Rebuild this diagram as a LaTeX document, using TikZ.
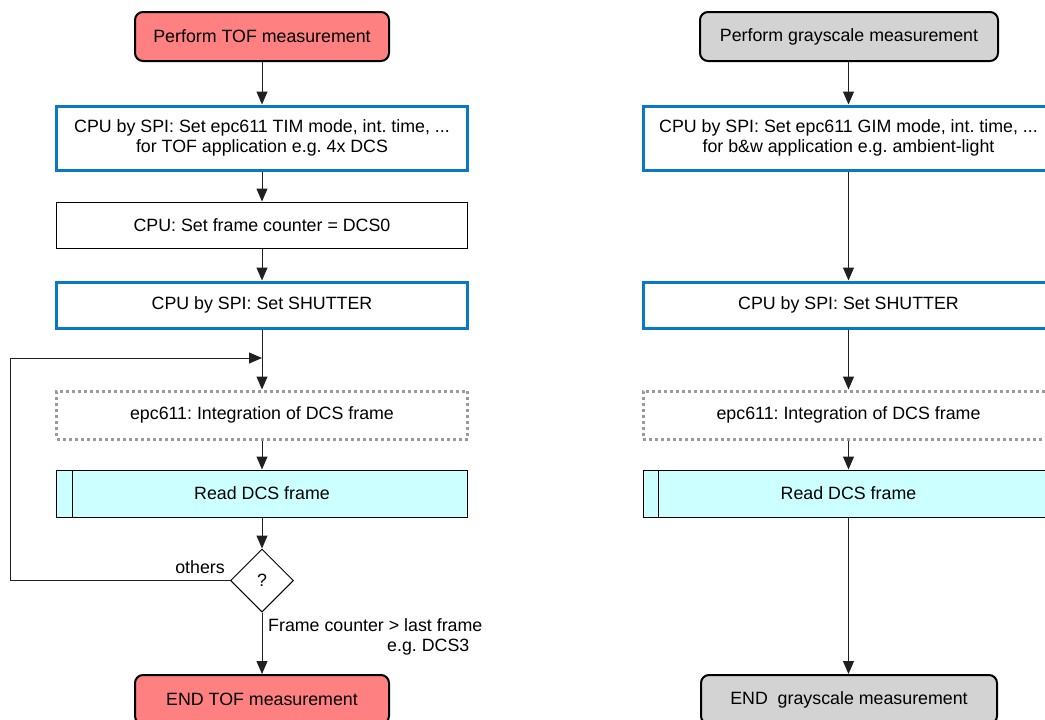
\documentclass[tikz,border=0pt]{standalone}
\usepackage{fontspec}
\setmainfont{Liberation Sans}
\usetikzlibrary{arrows.meta,shapes.geometric}
\definecolor{redf}{HTML}{FF8080}
\definecolor{grayf}{HTML}{D3D3D3}
\definecolor{bluel}{HTML}{0A78C8}
\definecolor{cyanf}{HTML}{CCFFFF}
\definecolor{dotg}{HTML}{9A9A9A}
\definecolor{ln}{HTML}{202020}
\frenchspacing
\tikzset{
  base/.style={font=\fontsize{17.8}{20}\selectfont, align=center, inner sep=0pt, text=black},
  term/.style={base, draw=black, line width=2pt, rounded corners=8pt, minimum height=49pt},
  bluebox/.style={base, draw=bluel, line width=3pt, minimum width=411pt},
  plainbox/.style={base, draw=black, line width=1pt, minimum width=411pt, minimum height=46pt},
  dotbox/.style={base, draw=dotg, line width=3pt, dash pattern=on 3pt off 3pt, minimum width=411pt, minimum height=48pt},
  readbox/.style={base, draw=black, line width=1pt, fill=cyanf, minimum width=411pt, minimum height=47pt},
  decision/.style={base, draw=black, line width=1pt, diamond, aspect=1, minimum width=63pt, minimum height=63pt},
  arr/.style={draw=ln, line width=1pt, -{Triangle[length=13pt,width=11pt]}},
  lbl/.style={base}
}
\begin{document}
\begin{tikzpicture}[x=1pt,y=-1pt]
\useasboundingbox (0,0) rectangle (1045,720);
\clip (0,0) rectangle (1045,720);
% left column
\node[term, fill=redf, minimum width=254pt] (ls) at (262,36.5) {Perform TOF measurement};
\node[bluebox, minimum height=64pt] (lc) at (262,138) {CPU by SPI: Set epc611 TIM mode, int. time, ...\\for TOF application e.g. 4x DCS};
\node[plainbox] (lf) at (262,225) {CPU: Set frame counter = DCS0};
\node[bluebox, minimum height=46pt] (lsh) at (262,305) {CPU by SPI: Set SHUTTER};
\node[dotbox] (ld) at (262,415) {epc611: Integration of DCS frame};
\node[readbox] (lr) at (262,493.5) {Read DCS frame};
\draw[line width=1pt] ([xshift=16pt]lr.north west) -- ([xshift=16pt]lr.south west);
\node[decision] (q) at (262,580.5) {?};
\node[term, fill=redf, minimum width=254pt] (le) at (262,699.5) {END TOF measurement};
\coordinate (join) at (262,358);
\coordinate (lp) at (10,0);
\draw[arr] (ls) -- (lc);
\draw[arr] (lc) -- (lf);
\draw[arr] (lf) -- (lsh);
\draw[arr] (lsh) -- (ld);
\draw[arr] (ld) -- (lr);
\draw[arr] (lr) -- (q);
\draw[arr] (q.west) -- (q.west -| lp) |- (join);
\draw[arr] (q) -- (le);
\node[lbl, anchor=south east] at (225,574) {others};
\node[lbl, anchor=north west, align=left] at (268,618) {Frame counter > last frame\\\hspace*{119pt}e.g. DCS3};
% right column
\node[term, fill=grayf, minimum width=298pt] (rs) at (849,36.5) {Perform grayscale measurement};
\node[bluebox, minimum height=64pt] (rc) at (848.5,138) {CPU by SPI: Set epc611 GIM mode, int. time, ...\\for b\&w application e.g. ambient-light};
\node[bluebox, minimum height=46pt] (rsh) at (848.5,305) {CPU by SPI: Set SHUTTER};
\node[dotbox] (rd) at (848.5,415) {epc611: Integration of DCS frame};
\node[readbox] (rr) at (848.5,493.5) {Read DCS frame};
\draw[line width=1pt] ([xshift=16pt]rr.north west) -- ([xshift=16pt]rr.south west);
\node[term, fill=grayf, minimum width=296pt] (re) at (849,699.5) {END\ \ grayscale measurement};
\draw[arr] (rs.south -| rc.north) -- (rc);
\draw[arr] (rc) -- (rsh);
\draw[arr] (rsh) -- (rd);
\draw[arr] (rd) -- (rr);
\draw[arr] (rr) -- (rr.south |- re.north);
\end{tikzpicture}
\end{document}
